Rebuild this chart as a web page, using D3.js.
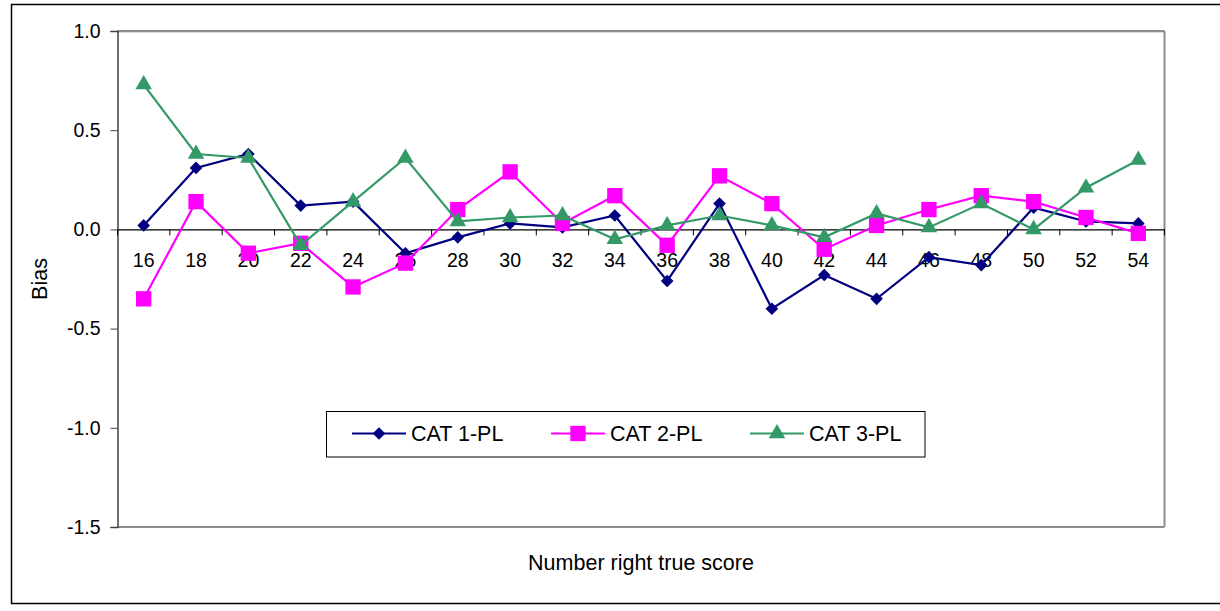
<!DOCTYPE html>
<html>
<head>
<meta charset="utf-8">
<script src="https://cdn.jsdelivr.net/npm/d3@7"></script>
<style>
  html, body { margin: 0; padding: 0; background: #fff; }
  svg { display: block; font-family: "Liberation Sans", Arial, sans-serif; }
</style>
</head>
<body>
<svg id="chart" width="1220" height="611"></svg>
<script>
const categories = [16, 18, 20, 22, 24, 26, 28, 30, 32, 34, 36, 38, 40, 42, 44, 46, 48, 50, 52, 54];
const cat1PL = [0.02, 0.31, 0.38, 0.12, 0.14, -0.12, -0.04, 0.03, 0.01, 0.07, -0.26, 0.13, -0.40, -0.23, -0.35, -0.14, -0.18, 0.11, 0.04, 0.03];
const cat2PL = [-0.35, 0.14, -0.12, -0.07, -0.29, -0.17, 0.10, 0.29, 0.03, 0.17, -0.08, 0.27, 0.13, -0.10, 0.02, 0.10, 0.17, 0.14, 0.06, -0.02];
const cat3PL = [0.73, 0.38, 0.36, -0.08, 0.14, 0.36, 0.04, 0.06, 0.07, -0.05, 0.02, 0.07, 0.02, -0.04, 0.08, 0.01, 0.13, 0.00, 0.21, 0.35];
const seriesNames = ["CAT 1-PL", "CAT 2-PL", "CAT 3-PL"];
const yTicks = [1.0, 0.5, 0.0, -0.5, -1.0, -1.5];
const yTitle = "Bias";
const xTitle = "Number right true score";

const series = [
  { name: seriesNames[0], values: cat1PL, color: "#000080", symbol: "diamond" },
  { name: seriesNames[1], values: cat2PL, color: "#FF00FF", symbol: "square" },
  { name: seriesNames[2], values: cat3PL, color: "#339966", symbol: "triangle" }
];

const FONT = "'Liberation Sans', Arial, sans-serif";
const svg = d3.select("#chart");
const L = 117.5, R = 1164.5, T = 31, B = 527;

// outer border
svg.append("rect").attr("x", 11.5).attr("y", 4.5).attr("width", 1215).attr("height", 599)
  .attr("fill", "none").attr("stroke", "#000").attr("stroke-width", 1.5);

const x = d3.scaleBand().domain(categories).range([L, R]);
const y = d3.scaleLinear().domain([-1.5, 1.0]).range([B, T]);

// plot frame (top, right, bottom gray)
const frame = svg.append("g");
frame.append("line").attr("x1", L).attr("x2", R).attr("y1", T).attr("y2", T).attr("stroke", "#8c8c8c").attr("stroke-width", 2);
frame.append("line").attr("x1", L).attr("x2", R).attr("y1", T + 1.5).attr("y2", T + 1.5).attr("stroke", "#dcdcdc").attr("stroke-width", 1);
frame.append("line").attr("x1", R).attr("x2", R).attr("y1", T).attr("y2", B).attr("stroke", "#8c8c8c").attr("stroke-width", 2);
frame.append("line").attr("x1", L).attr("x2", R).attr("y1", B).attr("y2", B).attr("stroke", "#8c8c8c").attr("stroke-width", 2);

// y axis
const fmt = d => d3.format(".1f")(d).replace("\u2212", "-");
const yAxis = d3.axisLeft(y).tickValues(yTicks).tickFormat(fmt).tickSize(7).tickPadding(10);
const gy = svg.append("g").attr("transform", `translate(${L},0)`).call(yAxis);
gy.select(".domain").attr("stroke", "#404040").attr("stroke-width", 1.5);
gy.selectAll(".tick line").attr("stroke", "#404040");
gy.selectAll(".tick text").attr("font-size", 19.5).attr("fill", "#000").attr("font-family", FONT);

// x axis at zero
const xAxis = d3.axisBottom(x).tickSize(0).tickPadding(24);
const gx = svg.append("g").attr("transform", `translate(0,${y(0)})`).call(xAxis);
gx.select(".domain").attr("stroke", "#000").attr("stroke-width", 1.2);
gx.selectAll(".tick text").attr("font-size", 19.5).attr("fill", "#000").attr("font-family", FONT);
// category boundary tick marks
const bounds = categories.map(c => x(c)).concat([x(categories[categories.length - 1]) + x.bandwidth()]);
gx.selectAll(".btick").data(bounds).enter().append("line")
  .attr("x1", d => d).attr("x2", d => d).attr("y1", 0).attr("y2", 6)
  .attr("stroke", "#000").attr("stroke-width", 1);

// lines and markers
const cx = c => x(c) + x.bandwidth() / 2;
const line = d3.line().x((d, i) => cx(categories[i])).y(d => y(d));
const diamondSym = { draw(ctx, size) { const r = Math.sqrt(size / 2); ctx.moveTo(0, -r); ctx.lineTo(r, 0); ctx.lineTo(0, r); ctx.lineTo(-r, 0); ctx.closePath(); } };
const symbolMap = { diamond: diamondSym, square: d3.symbolSquare, triangle: d3.symbolTriangle };
const sizeMap = { diamond: 80, square: 235, triangle: 118 };

series.forEach(s => {
  const g = svg.append("g");
  g.append("path").datum(s.values).attr("d", line)
    .attr("fill", "none").attr("stroke", s.color).attr("stroke-width", 2.2);
  g.selectAll("path.m").data(s.values).enter().append("path").attr("class", "m")
    .attr("transform", (d, i) => `translate(${cx(categories[i])},${y(d)})`)
    .attr("d", d3.symbol().type(symbolMap[s.symbol]).size(sizeMap[s.symbol]))
    .attr("fill", s.color);
});

// axis titles
svg.append("text").attr("transform", `translate(47,${(T + B) / 2}) rotate(-90)`)
  .attr("text-anchor", "middle").attr("font-size", 21.5).attr("font-family", FONT).text(yTitle);
svg.append("text").attr("x", (L + R) / 2).attr("y", 570)
  .attr("text-anchor", "middle").attr("font-size", 21.5).attr("font-family", FONT).text(xTitle);

// legend
const lg = svg.append("g");
lg.append("rect").attr("x", 326.5).attr("y", 411.5).attr("width", 598.5).attr("height", 45.5)
  .attr("fill", "#fff").attr("stroke", "#000").attr("stroke-width", 1);
const legendX = [352, 551, 750];
series.forEach((s, i) => {
  const lx = legendX[i], ly = 433.5;
  lg.append("line").attr("x1", lx).attr("x2", lx + 54).attr("y1", ly).attr("y2", ly)
    .attr("stroke", s.color).attr("stroke-width", 2.2);
  lg.append("path").attr("transform", `translate(${lx + 27},${ly})`)
    .attr("d", d3.symbol().type(symbolMap[s.symbol]).size(sizeMap[s.symbol]))
    .attr("fill", s.color);
  lg.append("text").attr("x", lx + 59).attr("y", ly + 7.8).attr("font-size", 21.5)
    .attr("font-family", FONT).text(s.name);
});
</script>
</body>
</html>
